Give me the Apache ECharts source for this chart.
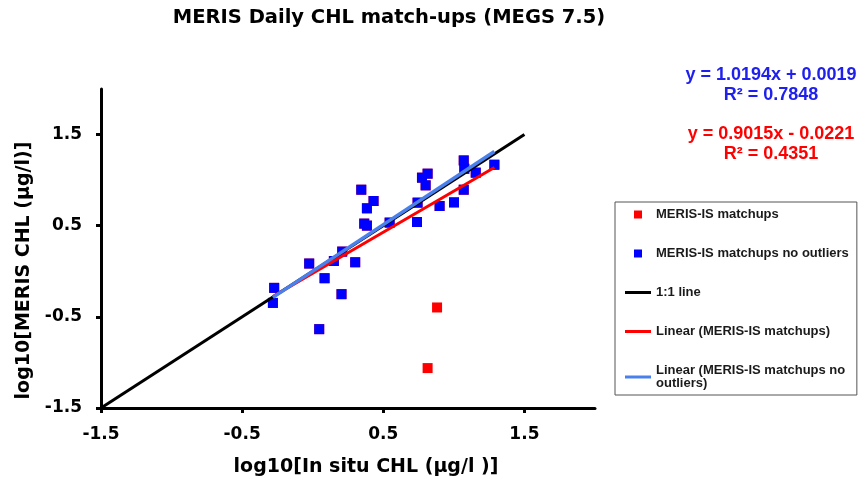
<!DOCTYPE html>
<html>
<head>
<meta charset="utf-8">
<title>MERIS Daily CHL match-ups</title>
<script src="https://cdn.jsdelivr.net/npm/echarts@6/dist/echarts.min.js"></script>
<style>
  html, body { margin: 0; padding: 0; background: #fff; }
  #chart { width: 865px; height: 489px; }
</style>
</head>
<body>
<div id="chart"></div>
<script>
// log10 in situ CHL vs log10 MERIS CHL
var matchX = [0.344, 0.431, 0.384, 0.365, 0.384, 0.545, 0.743, 0.739, 0.774, 0.814,
              0.800, 0.899, 1.001, 1.070, 1.074, 1.155, 1.070, 1.287, 0.209, 0.150,
              -0.025, 0.301, 0.084, -0.273, -0.282, 0.204, 0.046];
var matchY = [0.895, 0.771, 0.691, 0.523, 0.501, 0.534, 0.753, 0.541, 1.027, 1.071,
              0.943, 0.716, 0.756, 1.216, 1.125, 1.082, 0.895, 1.169, 0.216, 0.113,
              0.085, 0.099, -0.076, -0.182, -0.347, -0.251, -0.635];
// the two points dropped as outliers
var outlierX = [0.881, 0.814];
var outlierY = [-0.397, -1.062];

// 1:1 line and the two trend lines (end points)
var oneToOneX = [-1.5, 1.5];
var oneToOneY = [-1.5, 1.5];
var fitAllX = [-0.282, 1.287];
var fitAllY = [-0.276, 1.138];
var fitCleanX = [-0.282, 1.287];
var fitCleanY = [-0.286, 1.314];

var tickValues = [-1.5, -0.5, 0.5, 1.5];

var seriesNames = ['MERIS-IS matchups', 'MERIS-IS matchups no outliers', '1:1 line',
                   'Linear (MERIS-IS matchups)', 'Linear (MERIS-IS matchups no outliers)'];

function pairs(xs, ys) {
    var out = [];
    for (var i = 0; i < xs.length; i++) {
        out.push([xs[i], ys[i]]);
    }
    return out;
}

var cleanPts = pairs(matchX, matchY);
var allPts = cleanPts.concat(pairs(outlierX, outlierY));

var axisFont = 'DejaVu Sans';
var squareIcon = 'path://M0,0h10v10h-10z';
var barIcon = 'path://M0,0h26v3h-26z';

var myChart = echarts.init(document.getElementById('chart'));
var option = {
    backgroundColor: '#fff',
    animation: false,
    title: {
        text: 'MERIS Daily CHL match-ups (MEGS 7.5)',
        left: 384,
        top: 3,
        textAlign: 'center',
        textStyle: { fontFamily: axisFont, fontWeight: 'bold', fontSize: 19.5, color: '#000' }
    },
    grid: { left: 101, top: 89, right: 270, bottom: 81, containLabel: false },
    legend: {
        orient: 'vertical',
        left: 615,
        top: 202,
        padding: [6, 8, 5, 10],
        itemGap: 26,
        itemWidth: 26,
        itemHeight: 8,
        borderColor: '#555',
        borderWidth: 1,
        textStyle: { fontFamily: 'Liberation Sans', fontWeight: 'bold', fontSize: 13, color: '#1a1a1a' },
        formatter: function (name) {
            if (name === seriesNames[4]) {
                return 'Linear (MERIS-IS matchups no\noutliers)';
            }
            return name;
        },
        data: [
            { name: seriesNames[0], icon: squareIcon },
            { name: seriesNames[1], icon: squareIcon },
            { name: seriesNames[2], icon: barIcon },
            { name: seriesNames[3], icon: barIcon },
            { name: seriesNames[4], icon: barIcon }
        ]
    },
    xAxis: {
        type: 'value',
        min: -1.5,
        max: 2,
        interval: 1,
        name: 'log10[In situ CHL (µg/l )]',
        nameLocation: 'middle',
        nameGap: 50,
        nameTextStyle: { fontFamily: axisFont, fontWeight: 'bold', fontSize: 19, color: '#000', padding: [0, 0, 0, 36] },
        axisLine: { onZero: false, lineStyle: { color: '#000', width: 3 } },
        axisTick: { show: true, length: 5, lineStyle: { color: '#000', width: 3 }, customValues: tickValues },
        axisLabel: { margin: 18, fontFamily: axisFont, fontWeight: 'bold', fontSize: 17, color: '#000', customValues: tickValues },
        splitLine: { show: false }
    },
    yAxis: {
        type: 'value',
        min: -1.5,
        max: 2,
        interval: 1,
        name: 'log10[MERIS CHL (µg/l)]',
        nameLocation: 'middle',
        nameGap: 64,
        nameTextStyle: { fontFamily: axisFont, fontWeight: 'bold', fontSize: 19, color: '#000', padding: [0, 44, 0, 0] },
        axisLine: { onZero: false, lineStyle: { color: '#000', width: 3 } },
        axisTick: { show: true, length: 5, lineStyle: { color: '#000', width: 3 }, customValues: tickValues },
        axisLabel: { margin: 19, fontFamily: axisFont, fontWeight: 'bold', fontSize: 17, color: '#000', customValues: tickValues },
        splitLine: { show: false }
    },
    series: [
        {
            name: seriesNames[0],
            type: 'scatter',
            symbol: 'rect',
            symbolSize: 10,
            itemStyle: { color: '#ff0000', opacity: 1 },
            data: allPts,
            z: 2
        },
        {
            name: seriesNames[1],
            type: 'scatter',
            symbol: 'rect',
            symbolSize: 10,
            itemStyle: { color: '#0000ff', opacity: 1 },
            data: cleanPts,
            z: 3
        },
        {
            name: seriesNames[2],
            type: 'line',
            symbol: 'none',
            lineStyle: { color: '#000', width: 3 },
            itemStyle: { color: '#000' },
            data: pairs(oneToOneX, oneToOneY),
            z: 4
        },
        {
            name: seriesNames[3],
            type: 'line',
            symbol: 'none',
            lineStyle: { color: '#ff0000', width: 3 },
            itemStyle: { color: '#ff0000' },
            data: pairs(fitAllX, fitAllY),
            z: 5
        },
        {
            name: seriesNames[4],
            type: 'line',
            symbol: 'none',
            lineStyle: { color: '#4a80ec', width: 3.5 },
            itemStyle: { color: '#4a80ec' },
            data: pairs(fitCleanX, fitCleanY),
            z: 6
        }
    ],
    graphic: [
        { type: 'text', x: 771, y: 75, style: { text: 'y = 1.0194x + 0.0019', align: 'center', verticalAlign: 'middle', fill: '#2020ee', font: 'bold 18px "Liberation Sans"' } },
        { type: 'text', x: 771, y: 95, style: { text: 'R² = 0.7848', align: 'center', verticalAlign: 'middle', fill: '#2020ee', font: 'bold 18px "Liberation Sans"' } },
        { type: 'text', x: 771, y: 134, style: { text: 'y = 0.9015x - 0.0221', align: 'center', verticalAlign: 'middle', fill: '#ff0000', font: 'bold 18px "Liberation Sans"' } },
        { type: 'text', x: 771, y: 154, style: { text: 'R² = 0.4351', align: 'center', verticalAlign: 'middle', fill: '#ff0000', font: 'bold 18px "Liberation Sans"' } }
    ]
};

myChart.setOption(option);
</script>
</body>
</html>
